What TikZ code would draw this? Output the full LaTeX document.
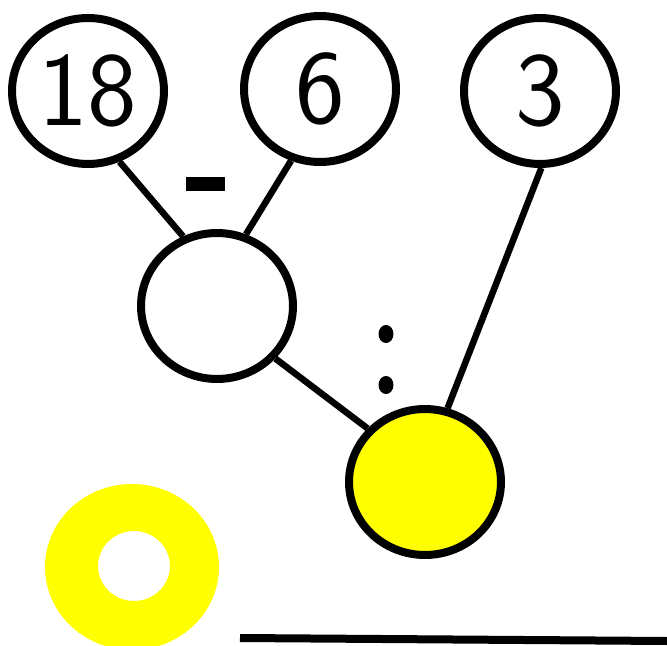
\documentclass[tikz,border=0pt]{standalone}
\usepackage{xcolor}
\usepackage{tikz}
\usetikzlibrary{shapes.geometric}

\definecolor{answer}{RGB}{255,255,0}

\begin{document}
\begin{tikzpicture}[
    x=0.02cm, y=-0.02cm,
    bubble/.style={draw, ellipse, line width=0.16cm, minimum width=3.04cm,
                   minimum height=2.92cm, inner sep=0pt,
                   font=\sffamily\fontsize{60}{60}\selectfont},
    link/.style={line width=0.13cm},
]
    \useasboundingbox (0,0) rectangle (667,646);

    \node[bubble] (n18) at (88,91) {18};
    \node[bubble] (n6) at (320,89) {6};
    \node[bubble] (n3) at (540,91) {3};
    \node[bubble] (diff) at (217,306) {};
    \node[bubble, fill=answer] (quot) at (425,482) {};

    \node[fill=black, minimum width=0.78cm, minimum height=0.28cm, inner sep=0pt] (minus) at (205.5,184) {};
    \fill (386,334) ellipse [x radius=0.15cm, y radius=0.18cm];
    \fill (386,385) ellipse [x radius=0.15cm, y radius=0.18cm];

    \foreach \a/\b in {n18.-66/diff.116, n6.-112/diff.68, n3.-89/quot.73, diff.-42/quot.137}
        \draw[link] (\a) -- (\b);

    % ring and answer line
    \fill[answer, even odd rule] (132,567) ellipse [x radius=1.74cm, y radius=1.66cm]
                                 (134,566) ellipse [x radius=0.72cm, y radius=0.7cm];
    \draw[line width=0.16cm] (240,638) -- (667,641);
\end{tikzpicture}
\end{document}
